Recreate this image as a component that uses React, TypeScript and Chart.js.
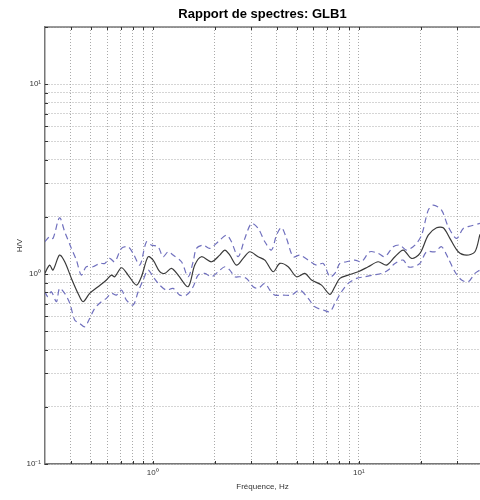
import React, { useEffect, useRef } from "react";
import Chart from "chart.js/auto";

const TITLE = "Rapport de spectres: GLB1";
const X_LABEL = "Fréquence, Hz";
const Y_LABEL = "H/V";

const X_MIN = 0.3;
const X_MAX = 38.7;
const Y_MIN = 0.1;
const Y_MAX = 20;

const xTickValues = [0.4, 0.5, 0.6, 0.7, 0.8, 0.9, 1, 2, 3, 4, 5, 6, 7, 8, 9, 10, 20, 30];
const yTickValues = [0.1, 0.2, 0.3, 0.4, 0.5, 0.6, 0.7, 0.8, 0.9, 1, 2, 3, 4, 5, 6, 7, 8, 9, 10, 20];
const xTickLabels: [number, string][] = [[1, "10⁰"], [10, "10¹"]];
const yTickLabels: [number, string][] = [[0.1, "10⁻¹"], [1, "10⁰"], [10, "10¹"]];

const meanFreq = [0.299, 0.316, 0.328, 0.353, 0.374, 0.403, 0.434, 0.459, 0.494, 0.543, 0.596, 0.63, 0.654, 0.705, 0.759, 0.833, 0.881, 0.949, 1.004, 1.081, 1.144, 1.232, 1.327, 1.484, 1.599, 1.723, 1.927, 2.114, 2.236, 2.365, 2.548, 2.745, 2.957, 3.245, 3.498, 3.838, 4.135, 4.539, 4.982, 5.468, 5.891, 6.589, 7.232, 7.648, 8.088, 8.878, 9.926, 11.1, 12.41, 13.62, 14.96, 16.41, 18.02, 19.78, 21.71, 23.82, 25.67, 27.65, 30.35, 33.32, 36.57, 38.68];
const meanHV = [1.008, 1.115, 1.05, 1.259, 1.161, 0.949, 0.791, 0.715, 0.791, 0.858, 0.93, 0.988, 0.968, 1.08, 0.988, 0.875, 0.968, 1.234, 1.185, 1.029, 1.008, 1.071, 0.988, 0.858, 1.115, 1.234, 1.161, 1.259, 1.338, 1.259, 1.115, 1.209, 1.311, 1.234, 1.185, 1.029, 1.138, 1.093, 0.968, 1.008, 0.93, 0.875, 0.782, 0.858, 0.949, 0.988, 1.029, 1.093, 1.161, 1.115, 1.234, 1.338, 1.209, 1.285, 1.604, 1.753, 1.753, 1.541, 1.311, 1.259, 1.311, 1.62];

const upperFreq = [0.299, 0.316, 0.328, 0.353, 0.374, 0.403, 0.426, 0.45, 0.476, 0.513, 0.553, 0.585, 0.618, 0.654, 0.705, 0.759, 0.803, 0.865, 0.932, 0.985, 1.061, 1.122, 1.187, 1.255, 1.378, 1.484, 1.57, 1.629, 1.755, 1.891, 2.076, 2.279, 2.409, 2.596, 2.797, 3.013, 3.245, 3.498, 3.768, 3.984, 4.213, 4.456, 4.8, 5.171, 5.675, 6.23, 6.713, 7.232, 7.648, 8.088, 8.713, 9.563, 10.3, 11.31, 12.41, 13.37, 14.68, 15.81, 17.03, 18.7, 20.15, 21.71, 22.96, 25.19, 27.15, 29.79, 32.1, 35.24, 38.68];
const upperHV = [1.48, 1.572, 1.541, 1.979, 1.67, 1.365, 1.185, 0.988, 1.093, 1.093, 1.138, 1.138, 1.209, 1.161, 1.365, 1.393, 1.285, 1.115, 1.48, 1.421, 1.393, 1.234, 1.311, 1.259, 1.161, 0.968, 1.161, 1.365, 1.421, 1.365, 1.48, 1.604, 1.48, 1.234, 1.541, 1.848, 1.739, 1.48, 1.338, 1.604, 1.76, 1.541, 1.234, 1.259, 1.185, 1.115, 1.138, 0.968, 1.008, 1.138, 1.161, 1.185, 1.161, 1.311, 1.285, 1.234, 1.393, 1.421, 1.338, 1.421, 1.604, 2.172, 2.307, 2.172, 1.775, 1.541, 1.739, 1.796, 1.848];

const lowerFreq = [0.299, 0.31, 0.322, 0.341, 0.353, 0.374, 0.396, 0.418, 0.442, 0.468, 0.494, 0.523, 0.563, 0.596, 0.63, 0.666, 0.705, 0.745, 0.803, 0.849, 0.898, 0.949, 1.004, 1.081, 1.165, 1.255, 1.352, 1.457, 1.57, 1.66, 1.788, 1.927, 2.076, 2.236, 2.365, 2.501, 2.645, 2.849, 3.069, 3.245, 3.498, 3.698, 3.91, 4.292, 4.711, 5.171, 5.675, 6.114, 6.713, 7.232, 7.648, 8.24, 8.878, 9.743, 10.69, 11.74, 12.88, 13.88, 14.96, 16.41, 17.35, 18.36, 19.78, 21.31, 23.39, 25.19, 27.15, 29.24, 31.51, 33.94, 36.57, 38.68];
const lowerHV = [0.807, 0.76, 0.807, 0.715, 0.841, 0.791, 0.701, 0.573, 0.55, 0.528, 0.584, 0.66, 0.715, 0.745, 0.791, 0.775, 0.824, 0.73, 0.687, 0.807, 0.93, 1.05, 0.968, 0.875, 0.824, 0.841, 0.775, 0.775, 0.858, 0.988, 1.008, 0.968, 1.029, 1.093, 1.05, 0.968, 0.968, 0.949, 0.858, 0.841, 0.893, 0.824, 0.775, 0.775, 0.775, 0.824, 0.745, 0.673, 0.647, 0.634, 0.701, 0.807, 0.893, 0.949, 0.968, 0.988, 1.008, 1.05, 1.138, 1.185, 1.093, 1.093, 1.138, 1.311, 1.311, 1.393, 1.209, 1.029, 0.93, 0.911, 1.008, 1.05];

const FONT = "'Liberation Sans', Arial, sans-serif";

function toPoints(xs: number[], ys: number[]) {
  return xs.map((x, i) => ({ x, y: ys[i] }));
}

function labelFor(list: [number, string][], v: number) {
  for (const [val, txt] of list) {
    if (Math.abs(Math.log10(v) - Math.log10(val)) < 1e-6) return txt;
  }
  return "";
}

const frameAndTicks = {
  id: "frameAndTicks",
  afterDatasetsDraw(chart: any) {
    const { ctx, chartArea, scales } = chart;
    const { left, right, top, bottom } = chartArea;
    ctx.save();
    ctx.strokeStyle = "#777";
    ctx.lineWidth = 1.5;
    ctx.beginPath();
    ctx.moveTo(left, top);
    ctx.lineTo(right, top);
    ctx.stroke();
    ctx.strokeStyle = "#333";
    ctx.lineWidth = 1;
    const tl = 3;
    for (const t of scales.x.ticks) {
      const px = Math.round(scales.x.getPixelForValue(t.value)) + 0.5;
      ctx.beginPath();
      ctx.moveTo(px, bottom);
      ctx.lineTo(px, bottom - tl);
      ctx.moveTo(px, top);
      ctx.lineTo(px, top + tl);
      ctx.stroke();
    }
    for (const t of scales.y.ticks) {
      const py = Math.round(scales.y.getPixelForValue(t.value)) + 0.5;
      ctx.beginPath();
      ctx.moveTo(left, py);
      ctx.lineTo(left + tl, py);
      ctx.stroke();
    }
    // title centred over the plot area
    ctx.fillStyle = "#000";
    ctx.font = `bold 13px ${FONT}`;
    ctx.textAlign = "center";
    ctx.textBaseline = "middle";
    ctx.fillText(TITLE, (left + right) / 2, top - 13);
    ctx.restore();
  },
};

export default function App() {
  const ref = useRef<HTMLCanvasElement | null>(null);

  useEffect(() => {
    if (!ref.current) return;
    const dashColor = "rgb(112,112,190)";
    const chart = new Chart(ref.current, {
      type: "line",
      data: {
        datasets: [
          {
            data: toPoints(upperFreq, upperHV),
            borderColor: dashColor,
            borderWidth: 1.2,
            borderDash: [6, 4],
            pointRadius: 0,
            tension: 0.3,
            fill: false,
          },
          {
            data: toPoints(lowerFreq, lowerHV),
            borderColor: dashColor,
            borderWidth: 1.2,
            borderDash: [6, 4],
            pointRadius: 0,
            tension: 0.3,
            fill: false,
          },
          {
            data: toPoints(meanFreq, meanHV),
            borderColor: "#3a3a3a",
            borderWidth: 1.2,
            pointRadius: 0,
            tension: 0.3,
            fill: false,
          },
        ],
      },
      options: {
        responsive: false,
        animation: false,
        devicePixelRatio: 1,
        layout: { padding: { top: 27, left: 0, right: 0, bottom: 0 } },
        plugins: {
          legend: { display: false },
          tooltip: { enabled: false },
          title: { display: false },
        },
        scales: {
          x: {
            type: "logarithmic",
            min: X_MIN,
            max: X_MAX,
            afterBuildTicks: (scale: any) => {
              scale.ticks = xTickValues.map((value) => ({ value }));
            },
            afterFit: (scale: any) => {
              scale.height = 36;
            },
            ticks: {
              autoSkip: false,
              maxRotation: 0,
              padding: 4,
              color: "#333",
              font: { family: FONT, size: 8 },
              callback: (v: any) => labelFor(xTickLabels, Number(v)),
            },
            grid: { color: "#aaaaaa", lineWidth: 1, drawTicks: false },
            border: { display: true, color: "#777", width: 1.5, dash: [1, 2] },
            title: {
              display: true,
              text: X_LABEL,
              color: "#333",
              font: { family: FONT, size: 8 },
              padding: { top: 0, bottom: 8.2 },
            },
          },
          y: {
            type: "logarithmic",
            min: Y_MIN,
            max: Y_MAX,
            afterBuildTicks: (scale: any) => {
              scale.ticks = yTickValues.map((value) => ({ value }));
            },
            afterFit: (scale: any) => {
              scale.width = 45;
            },
            ticks: {
              autoSkip: false,
              padding: 4,
              color: "#333",
              font: { family: FONT, size: 8 },
              callback: (v: any) => labelFor(yTickLabels, Number(v)),
            },
            grid: { color: "#aaaaaa", lineWidth: 1, drawTicks: false },
            border: { display: true, color: "#777", width: 1.5, dash: [1, 2] },
            title: {
              display: true,
              text: Y_LABEL,
              color: "#333",
              font: { family: FONT, size: 8 },
              padding: { top: 15, bottom: 0 },
            },
          },
        },
      },
      plugins: [frameAndTicks],
    } as any);
    return () => chart.destroy();
  }, []);

  return (
    <div style={{ position: "absolute", left: 0, top: 0, width: 480, height: 500, background: "#fff" }}>
      <canvas ref={ref} width={480} height={500} style={{ display: "block" }} />
    </div>
  );
}
